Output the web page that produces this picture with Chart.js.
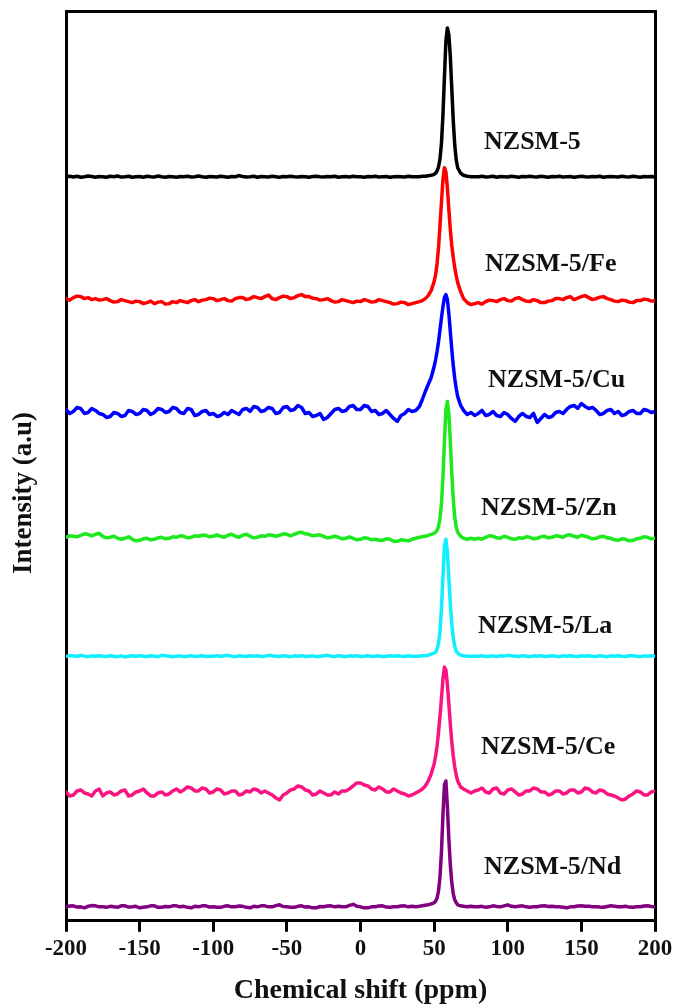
<!DOCTYPE html>
<html>
<head>
<meta charset="utf-8">
<script src="https://cdn.jsdelivr.net/npm/chart.js@4.4.0/dist/chart.umd.min.js"></script>
<style>
html,body{margin:0;padding:0;background:#ffffff;}
canvas{display:block;}
</style>
</head>
<body>
<canvas id="chart" width="676" height="1008"></canvas>
<script>
// ---------- DATA ----------
const shifts = [
  -200,-197.5,-195,-192.5,-190,-187.5,-185,-182.5,-180,-177.5,
  -175,-172.5,-170,-167.5,-165,-162.5,-160,-157.5,-155,-152.5,
  -150,-147.5,-145,-142.5,-140,-137.5,-135,-132.5,-130,-127.5,
  -125,-122.5,-120,-117.5,-115,-112.5,-110,-107.5,-105,-102.5,
  -100,-97.5,-95,-92.5,-90,-87.5,-85,-82.5,-80,-77.5,
  -75,-72.5,-70,-67.5,-65,-62.5,-60,-57.5,-55,-52.5,
  -50,-47.5,-45,-42.5,-40,-37.5,-35,-32.5,-30,-27.5,
  -25,-22.5,-20,-17.5,-15,-12.5,-10,-7.5,-5,-2.5,
  0,2.5,5,7.5,10,12.5,15,17.5,20,22.5,
  25,27.5,30,32.5,35,
  37.5,40,42,44,46,48,50,51,52,53,54,55,56,57,58,59,60,61,62,63,64,65,66,68,70,72.5,75,77.5,
  80,82.5,85,87.5,90,92.5,95,97.5,100,102.5,
  105,107.5,110,112.5,115,117.5,120,122.5,125,127.5,
  130,132.5,135,137.5,140,142.5,145,147.5,150,152.5,
  155,157.5,160,162.5,165,167.5,170,172.5,175,177.5,
  180,182.5,185,187.5,190,192.5,195,197.5,200];

const sampleNames = ['NZSM-5','NZSM-5/Fe','NZSM-5/Cu','NZSM-5/Zn','NZSM-5/La','NZSM-5/Ce','NZSM-5/Nd'];

const intNZSM5 = [
  0,0.5,-0.3,0.5,-0.5,0,0.8,0.2,-0.5,0.3,
  0,-0.5,0.5,0,0.8,-0.3,0,0.5,-0.5,0,
  0.3,-0.5,0.5,0,-0.3,0.8,0,-0.5,0.3,0,
  -0.5,0.3,0,0.5,-0.3,0,0.8,0,-0.5,0.3,
  0,-0.3,0.5,0,-0.5,0.3,0,1.2,0.3,-0.3,
  0,0.5,-0.5,0.3,0,-0.3,0.5,0,-0.5,0.3,
  0,0.5,0,-0.3,0.3,0,-0.5,0.3,0.5,0,
  -0.3,0.3,0,0.5,-0.5,0,0.3,-0.3,0.5,0,
  0,-0.5,0.3,0,0.5,-0.3,0,0.3,-0.5,0,
  0.3,0,-0.3,0.5,0,
  0,0,0.5,0.5,1,1.5,2.5,3.5,6,10,18,34,62,100,136,149,142,120,88,56,32,17,9,3.5,1.5,0.5,0,0,
  0,0.5,-0.3,0,0.5,-0.5,0.3,0,-0.3,0.5,
  0,-0.5,0.3,0,0.5,0,-0.3,0.5,0,-0.5,
  0.3,0,0.5,-0.3,0,0.3,-0.5,0,0.5,0,
  -0.3,0.3,0,0.5,-0.5,0,0.3,0,-0.3,0.5,
  0,-0.3,0.5,0,-0.5,0.3,0,0.3,0];

const intFe = [
  1,-0.5,2,3.5,3,1,2,0,1,-0.5,
  0,1,-1,-2.5,-2,0,-1,-2,-3,-1.5,
  -2,-4,-3,-1.5,-4,-2.5,-2,-4.5,-4,-2,
  -3,-1,-2,-3,-1,0,-2,-0.5,0,1.5,
  1,-1,0,1,-1,-1.5,1,2,2,0,
  1,3,2,1,3,4.5,1,0,2,3.5,
  3,1,2,4,5,3,3,1.5,1,-0.5,
  0,1,-1,-2.5,-2,0,-1,-2,-3,-1.5,
  -2,0,-1,-2.5,-2,0,-1,-2,-3,-4.5,
  -4,-2.5,-3,-5,-4,
  -3,-2,-1,1,4,9,18,25,36,52,74,98,120,132,128,112,90,70,54,42,32,24,17,8,1,-3,-5,-4,
  -3,-4.5,-2,-0.5,-1,-2,0,1,-1,-1.5,
  1,2,0,-1.5,-2,0,-1,-3,-3,-1.5,
  -1,1,1,0,2,3,0,1.5,3,4,
  2,0,1,2.5,3,1,0,-1.5,-2,-0.5,
  -1,-2.5,-3,-1,-1,0.5,0,-1.5,-1];

const intCu = [
  2,-2,0,4,3,-2,-1,3,1,-2,
  -3,-6,-5,-1,-2,-5,-4,1,0,-3,
  -2,2,1,-3,-1,3,2,-1,0,4,
  3,-1,-2,3,2,-4,-3,0,1,-3,
  -2,-5,-4,-1,-3,1,-1,-3,2,3,
  0,5,4,0,1,4,3,-2,-1,4,
  5,1,2,6,4,-2,-1,-5,-4,-2,
  -8,-6,-2,2,3,0,1,5,6,2,
  2,6,5,0,1,-3,-2,1,-3,-7,
  -10,-4,-2,2,0,
  1,5,12,20,27,34,45,52,60,70,82,94,105,114,117,112,98,80,62,46,33,23,15,6,1,-3,-1,-4,
  -2,1,-4,-3,0,-4,-5,-1,-3,-7,
  -10,-5,-2,-5,-6,-2,-11,-7,-3,-6,
  -5,-1,0,-2,2,5,6,3,8,5,
  3,4,1,-3,-2,1,2,-2,0,-4,
  -3,0,1,-2,-2,2,1,-1,0];

const intZn = [
  0,1.5,1,0.5,2,3.5,3,1.5,3,4,
  1,-0.5,0,1,-1,-2,-1,0.5,-2,-3.5,
  -3,-1.5,-1,-2.5,-2,-0.5,0,-1.5,-1,0.5,
  0,1.5,1,-0.5,0,1.5,1,2,2,0.5,
  1,2.5,1,0,2,3,1,0,2,3,
  1,-0.5,0,1.5,1,2.5,2,1,2,3.5,
  3,1.5,3,4.5,5,3.5,3,1.5,2,2.5,
  1,-0.5,0,1,0,-1.5,-1,0.5,-1,-2.5,
  -2,-0.5,-1,-2.5,-2,-3,-3,-1.5,-2,-4,
  -4,-2.5,-3,-3.5,-2,
  -1,0,0.5,1,2,3,4,5,7,11,19,34,60,96,128,136,124,96,64,38,20,10,5,1,-1,-2,-1,-2,
  -1,-2,0,1.5,1,-0.5,-1,1,0,-1.5,
  -2,-0.5,-1,0.5,0,-1.5,-1,0.5,1,-0.5,
  0,1.5,1,0,2,2.5,1,0,2,1,
  0,-1.5,-1,0.5,1,-0.5,-1,-2.5,-3,-1.5,
  -2,-3.5,-3,-1.5,-1,0.5,0,-1.5,-1];

const intLa = [
  0,0.5,0.3,-0.3,0.8,0,-0.5,0.3,0,0.5,
  0,-0.3,0.5,0,-0.5,0.3,-0.8,0,0.3,-0.3,
  0.5,0,-0.3,0.3,0,-0.5,0.8,0.3,0,-0.5,
  0,0.3,-0.5,0,0.5,-0.3,0,0.5,-0.3,0,
  0,0.5,-0.3,0.3,0.8,0,-0.5,0.3,0,-0.3,
  0.3,0,0.5,-0.3,0,0.8,0.3,0,-0.3,0.5,
  0,-0.5,0.3,0,0.5,-0.3,0,0.3,-0.5,0,
  0.3,0.8,0,-0.3,0.5,0,-0.5,0.3,0,0.5,
  -0.3,0,0.5,-0.3,0,0.3,-0.5,0,0.3,0,
  0.5,0,-0.3,0.3,0,
  0,0,0.5,0.5,1,2,3,4,7,13,25,48,80,110,117,104,78,52,32,18,10,5,3,1,0.5,0,0,0,
  0,0.5,-0.3,0,0.3,-0.5,0.5,0,0.8,0.3,
  0,-0.3,0.5,0,-0.5,0.3,0,0.5,-0.3,0,
  0.3,0,-0.5,0.3,0,0.5,0,-0.3,0.3,0,
  0.5,0,-0.3,0.3,0,-0.5,0.3,0,0.5,0,
  -0.3,0.3,0.5,0,-0.5,0.3,0,0.5,0];

const intCe = [
  0,-4,-3,1,2,-1,-2,-4,1,3,
  -4,-1,0,-3,-2,1,2,-4,-3,0,
  1,3,-1,-4,-4,-1,0,-3,-2,1,
  3,0,2,5,4,1,1,4,3,-1,
  0,3,2,-2,-1,1,1,-3,-2,1,
  0,3,2,-1,1,-1,-3,-6,-8,-3,
  -1,2,3,6,5,2,1,-3,-2,1,
  -1,-3,-3,0,-2,1,1,3,6,9,
  9,7,6,3,2,5,3,0,0,3,
  1,-1,-2,-4,-3,
  -1,1,3,6,11,18,28,36,46,60,76,94,113,125,122,108,88,68,50,36,25,17,11,5,3,1,-1,1,
  2,4,0,-1,3,4,-1,-2,2,3,
  0,-3,-2,1,1,4,3,0,0,-3,
  -2,1,1,-2,-1,2,2,-1,0,4,
  3,0,-1,2,1,-2,-3,-4,-6,-8,
  -7,-4,-2,1,0,-3,-3,0,1];

const intNd = [
  0,0.8,1,-0.3,0,-1,0.5,1.2,1,0,
  0,-0.5,0.5,0,-0.5,1,1,-0.3,0,0.5,
  -1,-0.5,0,1,1,-0.5,-0.5,0.3,0,1,
  1,0,0.5,-0.5,-1,0.5,0,1,1,-0.3,
  0,-0.5,-0.5,0.5,1,0,0,0.8,0.5,-0.5,
  -1,0.5,0,1,1,0,0,1.2,2,0.3,
  0,-0.5,-0.5,0.5,1,-0.3,0,-1,-1,0.3,
  0,0.8,1,0,0.5,0,0,1.5,2.5,0.5,
  0,-1,-1,0,0,0.8,1,-0.3,-0.5,0,
  0,0.8,1,0,0.5,
  0,0.5,1,1.5,2,3,4,5.5,9,16,30,56,92,122,126,100,68,42,24,13,7,4,2,1,0.5,0,0.5,0,
  0,0.5,-0.5,0,1,0.3,0,1,2,0.5,
  0,0.5,1,0,-0.5,0,0,0.8,1,0.3,
  0.5,0,0,-0.5,-1,0,0,0.8,1,0.5,
  0.5,0,0,-0.3,-0.5,0.3,1,0.5,0,0,
  0.5,-0.3,-0.5,0,0,0.8,1,0.3,0];

// vertical stacking offset of each trace (intensity units)
const traceOffsets = [745, 622, 510, 384, 265, 129, 14];

const xTickMin = -200, xTickMax = 200, xTickStep = 50;

// ---------- STYLE ----------
const lineColors = ['#000000','#ff0000','#0000ff','#1ee81e','#11eeff','#fa1482','#800080'];
const serif = "'Liberation Serif','Times New Roman',serif";
const labelSpots = [
  {ppm: 83.9, level: 780},
  {ppm: 84.6, level: 657},
  {ppm: 86.6, level: 541},
  {ppm: 81.8, level: 413},
  {ppm: 79.8, level: 295},
  {ppm: 81.8, level: 174},
  {ppm: 83.9, level: 54}
];

const seriesValues = [intNZSM5, intFe, intCu, intZn, intLa, intCe, intNd];

const datasets = seriesValues.map((vals, i) => ({
  label: sampleNames[i],
  data: shifts.map((s, k) => ({x: s, y: vals[k] + traceOffsets[i]})),
  borderColor: lineColors[i],
  backgroundColor: lineColors[i],
  borderWidth: 3.5,
  pointRadius: 0,
  tension: 0,
  borderJoinStyle: 'round',
  borderCapStyle: 'round',
  fill: false
}));

const seriesLabelPlugin = {
  id: 'seriesLabels',
  afterDatasetsDraw(chart) {
    const ctx = chart.ctx;
    const xs = chart.scales.x, ys = chart.scales.y;
    ctx.save();
    ctx.font = "bold 26px " + serif;
    ctx.fillStyle = '#111111';
    ctx.textAlign = 'left';
    ctx.textBaseline = 'middle';
    sampleNames.forEach((name, i) => {
      ctx.fillText(name, xs.getPixelForValue(labelSpots[i].ppm), ys.getPixelForValue(labelSpots[i].level));
    });
    ctx.restore();
  }
};

const yTitlePlugin = {
  id: 'yTitle',
  afterDraw(chart) {
    const ctx = chart.ctx;
    ctx.save();
    ctx.translate(24, 493);
    ctx.rotate(-Math.PI / 2);
    ctx.font = "bold 27px " + serif;
    ctx.fillStyle = '#111111';
    ctx.textAlign = 'center';
    ctx.textBaseline = 'middle';
    ctx.fillText('Intensity (a.u)', 0, 0);
    ctx.restore();
  }
};

const frameAxis = (pos) => ({
  type: 'linear',
  position: pos,
  display: true,
  ticks: {display: false},
  grid: {display: true, drawOnChartArea: false, drawTicks: false, lineWidth: 3, color: '#000'},
  border: {display: true, color: '#000', width: 3}
});

new Chart(document.getElementById('chart'), {
  type: 'line',
  data: {datasets},
  options: {
    responsive: false,
    animation: false,
    devicePixelRatio: 1,
    layout: {padding: {left: 66, right: 21, top: 11, bottom: 0}},
    plugins: {legend: {display: false}, tooltip: {enabled: false}},
    scales: {
      x: {
        type: 'linear',
        position: 'bottom',
        min: xTickMin,
        max: xTickMax,
        ticks: {
          stepSize: xTickStep,
          autoSkip: false,
          maxRotation: 0,
          padding: 3,
          color: '#111',
          font: {family: serif, size: 23, weight: 'bold'}
        },
        grid: {display: true, drawOnChartArea: false, drawTicks: true, tickLength: 11, tickWidth: 3, tickColor: '#000', lineWidth: 3, color: '#000'},
        border: {display: true, color: '#000', width: 3},
        title: {display: true, text: 'Chemical shift (ppm)', color: '#111', font: {family: serif, size: 28, weight: 'bold'}, padding: {top: 9, bottom: 0}}
      },
      y: Object.assign(frameAxis('left'), {min: 0, max: 911}),
      x2: Object.assign(frameAxis('top'), {min: xTickMin, max: xTickMax}),
      y2: Object.assign(frameAxis('right'), {min: 0, max: 911})
    }
  },
  plugins: [seriesLabelPlugin, yTitlePlugin]
});
</script>
</body>
</html>
